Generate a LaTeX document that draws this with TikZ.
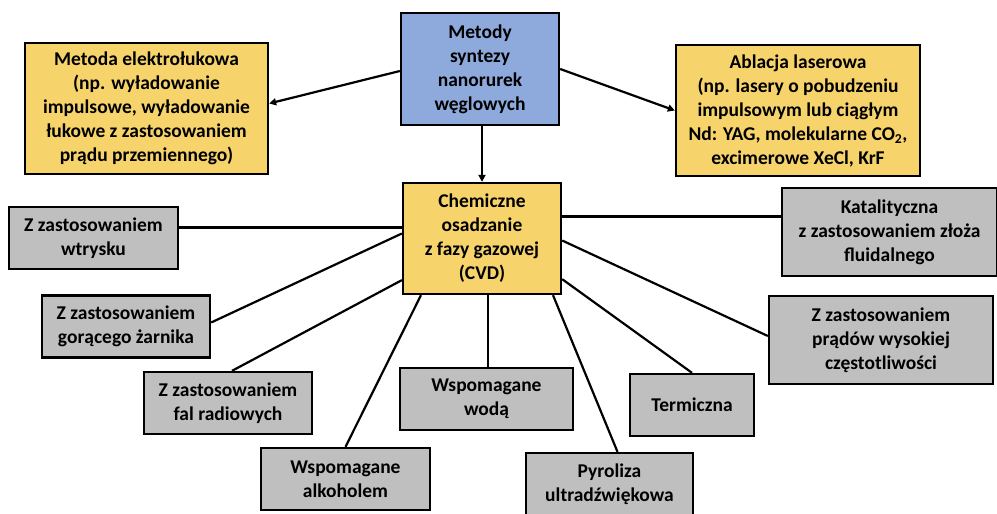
\documentclass[tikz,border=0pt]{standalone}
\usepackage{fontspec}
\setmainfont{Carlito}
\usetikzlibrary{arrows.meta}
\definecolor{boxblue}{RGB}{142,169,219}
\definecolor{boxyellow}{RGB}{246,211,107}
\definecolor{boxgray}{RGB}{191,191,191}

\begin{document}
\begin{tikzpicture}
  [x=1pt,y=-1pt,
   box/.style={draw=black,line width=2.3pt,align=center,inner sep=2pt,
     font=\fontsize{19.5}{24}\selectfont\bfseries},
   main/.style={box,fill=boxblue},
   yel/.style={box,fill=boxyellow},
   sub/.style={box,fill=boxgray,minimum width=168,minimum height=62},
   link/.style={line width=2.2pt},
   arr/.style={link,-{Triangle[length=7pt,width=7pt]}}]

  \useasboundingbox (0,0) rectangle (997,514);

  % top row
  \node[main,minimum width=158,minimum height=112] (meta) at (480,69) {Metody\\syntezy\\nanorurek\\węglowych};
  \node[yel,minimum width=243,minimum height=131] (arc) at (146.5,108.5) {Metoda elektrołukowa\\(np. wyładowanie\\impulsowe, wyładowanie\\łukowe z zastosowaniem\\prądu przemiennego)};
  \node[yel,minimum width=244,minimum height=131] (abl) at (798,110.5) {Ablacja laserowa\\(np. lasery o pobudzeniu\\impulsowym lub ciągłym\\Nd: YAG, molekularne CO\textsubscript{2},\\excimerowe XeCl, KrF};

  % CVD and its variants
  \node[yel,minimum width=158,minimum height=111] (cvd) at (482,238.5) {Chemiczne\\osadzanie\\z fazy gazowej\\(CVD)};
  \node[sub,minimum width=169] (wtr) at (93.5,238) {Z zastosowaniem\\wtrysku};
  \node[sub] (zar) at (126,326.5) {Z zastosowaniem\\gorącego żarnika};
  \node[sub] (fal) at (228,403) {Z zastosowaniem\\fal radiowych};
  \node[sub,minimum width=169] (alk) at (345.5,479) {Wspomagane\\alkoholem};
  \node[sub,minimum width=173] (wod) at (486.5,399) {Wspomagane\\wodą};
  \node[sub,minimum width=167] (pyr) at (609.5,484) {Pyroliza\\ultradźwiękowa};
  \node[sub,minimum width=124] (ter) at (692,405) {Termiczna};
  \node[sub,minimum width=224,minimum height=88] (prd) at (881,340) {Z zastosowaniem\\prądów wysokiej\\częstotliwości};
  \node[sub,minimum width=215,minimum height=88] (kat) at (889.5,232) {Katalityczna\\z zastosowaniem złoża\\fluidalnego};

  \draw[arr] ([yshift=-2pt]meta.west) -- ([yshift=5pt]arc.east);
  \draw[arr] (meta.east) -- (abl.west);
  \draw[arr] (cvd.north |- meta.south) -- (cvd.north);

  \draw[link] ([yshift=11pt]cvd.west) -- ([yshift=11pt]cvd.west -| wtr.east);
  \draw[link] ([yshift=5pt]cvd.west) -- ([yshift=4pt]zar.east);
  \draw[link] ([yshift=15pt]cvd.south west) -- ([xshift=4pt]fal.north);
  \draw[link] ([xshift=-61pt]cvd.south) -- (alk.north);
  \draw[link] ([xshift=6pt]cvd.south) -- ([xshift=6pt]cvd.south |- wod.north);
  \draw[link] ([xshift=71pt]cvd.south) -- ([xshift=8pt]pyr.north);
  \draw[link] ([yshift=16pt]cvd.south east) -- (ter.north);
  \draw[link] ([yshift=-2pt]cvd.east) -- ([yshift=4pt]prd.west);
  \draw[link] ([yshift=22pt]cvd.east) -- ([yshift=22pt]cvd.east -| kat.west);
\end{tikzpicture}
\end{document}
